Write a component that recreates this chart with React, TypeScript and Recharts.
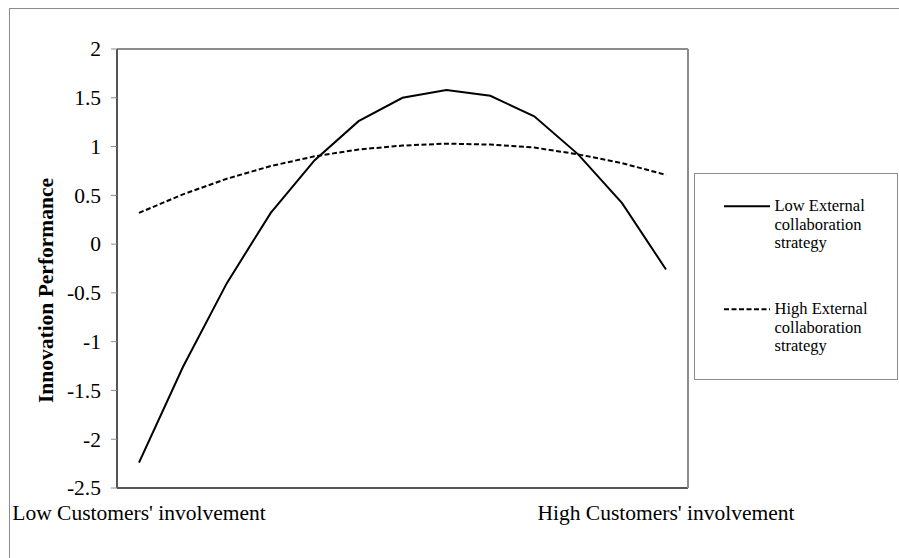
import { LineChart, Line, XAxis, YAxis, Legend } from "recharts";

const levels = [1, 2, 3, 4, 5, 6, 7, 8, 9, 10, 11, 12, 13];
const lowExternal = [-2.24, -1.26, -0.4, 0.32, 0.86, 1.26, 1.5, 1.58, 1.52, 1.31, 0.92, 0.42, -0.26];
const highExternal = [0.32, 0.51, 0.67, 0.8, 0.9, 0.97, 1.01, 1.03, 1.02, 0.99, 0.92, 0.83, 0.71];
const endLabels = ["Low Customers' involvement", "High Customers' involvement"];
const yTicks = [-2.5, -2, -1.5, -1, -0.5, 0, 0.5, 1, 1.5, 2];
const seriesNames = ["Low External collaboration strategy", "High External collaboration strategy"];
const seriesDash = ["", "5 2.5"];

const data = levels.map((level, i) => ({ level, low: lowExternal[i], high: highExternal[i] }));

const SERIF = '"Liberation Serif", "Times New Roman", serif';
const FRAME = "#8c8c8c";

const xTickLabel = (v: number) => {
    if (v === levels[0]) return endLabels[0];
    if (v === levels[levels.length - 1]) return endLabels[1];
    return "";
};

const XTick = (props: any) => (
    <text x={props.x} y={props.y} dy="0.71em" textAnchor="middle" fontFamily={SERIF} fontSize={21.5} fill="#000">
        {xTickLabel(props.payload.value)}
    </text>
);

const YTick = (props: any) => (
    <text x={props.x} y={props.y} dy="0.34em" textAnchor="end" fontFamily={SERIF} fontSize={21.5} fill="#000">
        {props.payload.value}
    </text>
);

const YTitle = (props: any) => {
    const vb = props.viewBox || { x: 0, y: 0, width: 0, height: 0 };
    const cx = vb.x + 53;
    const cy = vb.y + vb.height / 2 + 22;
    return (
        <text x={cx} y={cy} transform={`rotate(-90, ${cx}, ${cy})`} textAnchor="middle"
            fontFamily={SERIF} fontSize={21.5} fontWeight="bold" fill="#000">
            Innovation Performance
        </text>
    );
};

const LegendBox = () => (
    <div style={{ width: "100%", height: "100%", boxSizing: "border-box", border: `1.5px solid ${FRAME}`, background: "#fff", paddingTop: 23, paddingLeft: 28.5, fontFamily: SERIF, fontSize: 16.5, lineHeight: "18.5px", color: "#000" }}>
        {seriesNames.map((name, i) => (
            <div key={name} style={{ display: "flex", alignItems: "flex-start", marginTop: i === 0 ? 0 : 47.5 }}>
                <svg width={46} height={18.5} style={{ flex: "none" }}>
                    <line x1={0} x2={46} y1={9.25} y2={9.25} stroke="#000" strokeWidth={2} strokeDasharray={seriesDash[i] || undefined} />
                </svg>
                <div style={{ marginLeft: 5, width: 110 }}>{name}</div>
            </div>
        ))}
    </div>
);

export default function App() {
    return (
        <div style={{ position: "absolute", left: 0, top: 0, width: 899, height: 558, overflow: "hidden", background: "#fff" }}>
            <div style={{ position: "absolute", left: 9, top: 8, width: 900, height: 560, borderTop: `1.5px solid ${FRAME}`, borderLeft: `1.5px solid ${FRAME}` }} />
            <div style={{ position: "absolute", left: 0, top: 0 }}>
                <LineChart width={899} height={558} data={data} style={{ fontFamily: SERIF }}
                    margin={{ top: 48, right: 210, bottom: 69, left: 0 }}>
                    <XAxis dataKey="level" type="category" height={1} interval={0}
                        padding={{ left: 22, right: 22 }}
                        axisLine={{ stroke: "#555", strokeWidth: 2 }} tickLine={false} tickSize={0} tickMargin={17}
                        tick={XTick} />
                    <XAxis xAxisId="top" dataKey="level" orientation="top" height={1} tick={false} tickLine={false}
                        axisLine={{ stroke: FRAME, strokeWidth: 2 }} />
                    <YAxis type="number" domain={[-2.5, 2]} ticks={yTicks} interval={0} width={117}
                        axisLine={{ stroke: "#555", strokeWidth: 2 }} tickLine={{ stroke: FRAME }} tickSize={6} tickMargin={10}
                        tick={YTick}
                        label={{ content: YTitle }} />
                    <YAxis yAxisId="right" orientation="right" type="number" domain={[0, 1]} width={1} tick={false} tickLine={false}
                        axisLine={{ stroke: FRAME, strokeWidth: 2 }} />
                    <Legend layout="vertical" align="center" verticalAlign="middle" content={LegendBox}
                        wrapperStyle={{ position: "absolute", left: 694, top: 173, width: 204, height: 207 }} />
                    <Line dataKey="low" name={seriesNames[0]} type="linear" stroke="#000" strokeWidth={2} dot={false} isAnimationActive={false} />
                    <Line dataKey="high" name={seriesNames[1]} type="linear" stroke="#000" strokeWidth={2} strokeDasharray={seriesDash[1]} dot={false} isAnimationActive={false} />
                </LineChart>
            </div>
        </div>
    );
}
